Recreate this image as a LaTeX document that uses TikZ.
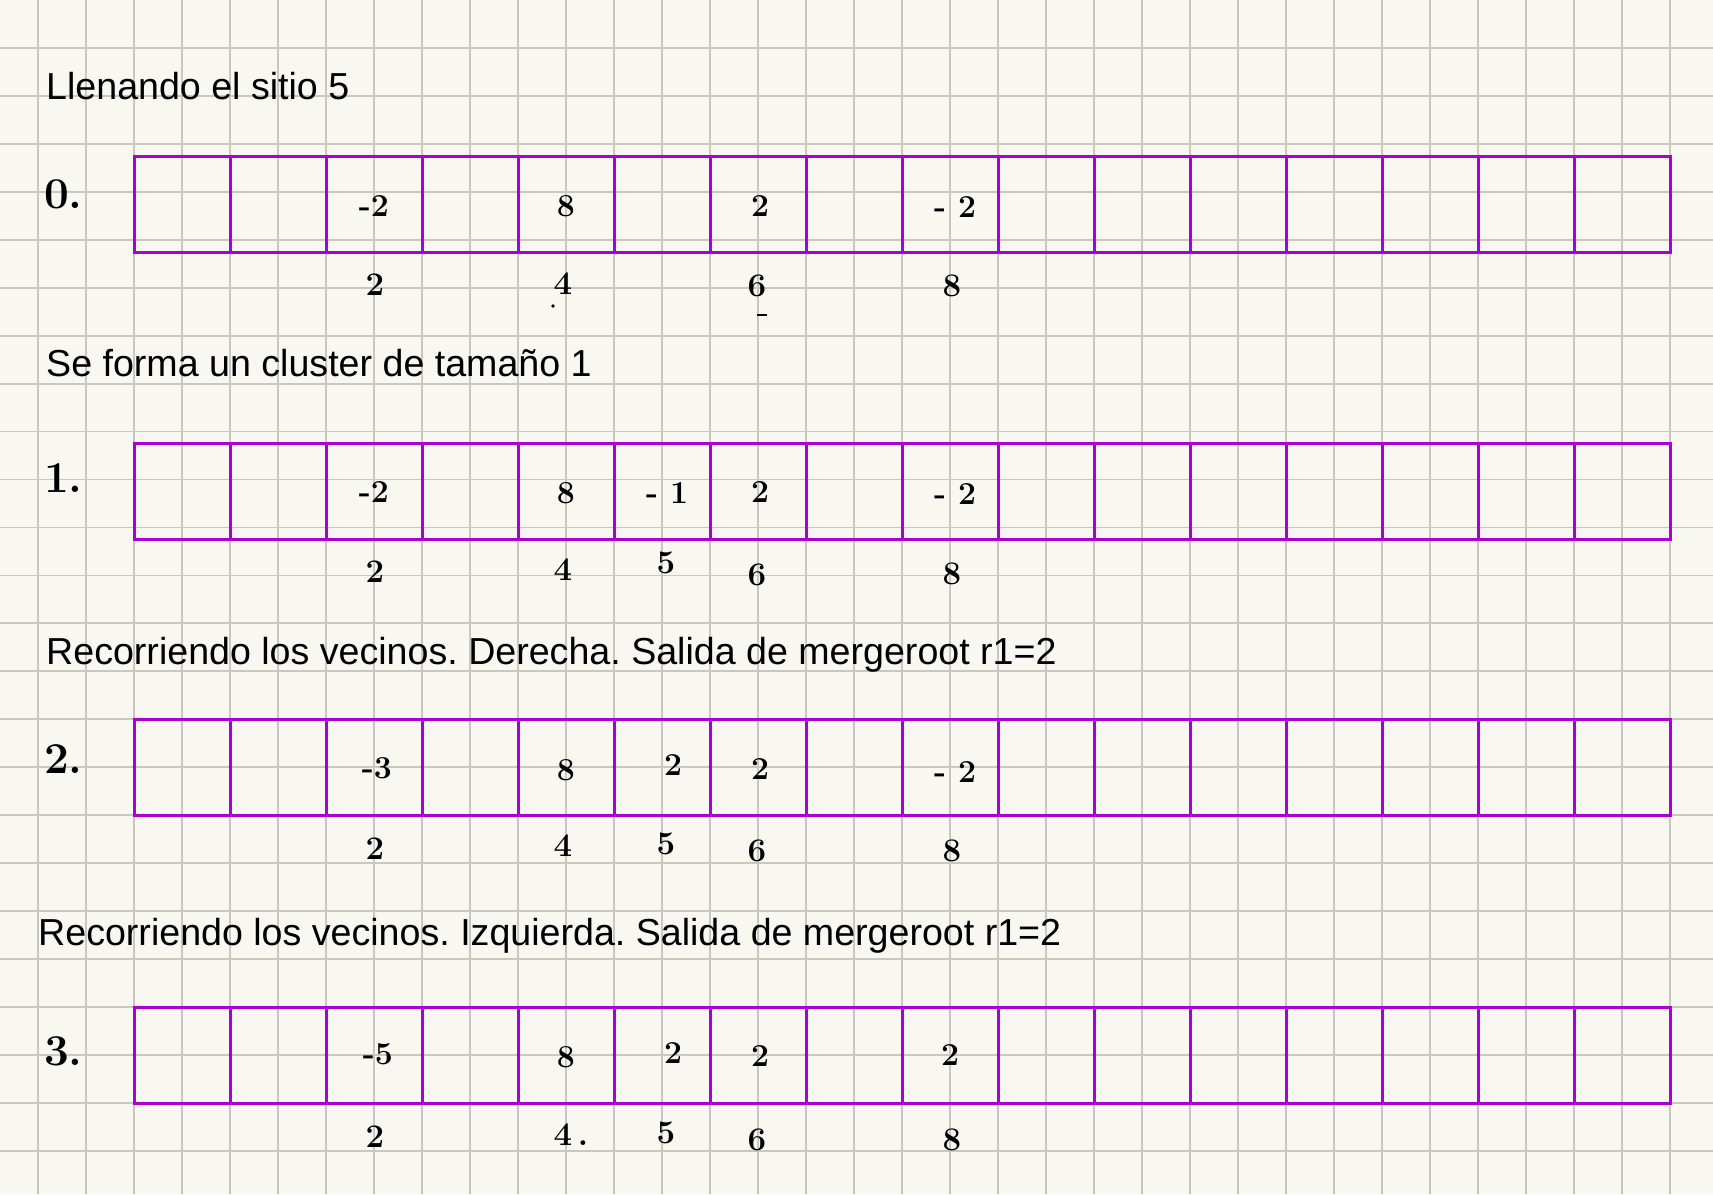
\documentclass[tikz,border=0pt]{standalone}
\usepackage{fontspec}
\setsansfont{Liberation Sans}
\definecolor{paper}{RGB}{249,247,242}
\definecolor{gridc}{RGB}{203,199,191}
\definecolor{boxc}{RGB}{170,0,212}
\frenchspacing
\begin{document}
\begin{tikzpicture}[x=1pt,y=-1pt,
  cellbox/.style={draw=boxc,line width=3pt,minimum width=96pt,minimum height=96pt,inner sep=0pt,outer sep=0pt},
  val/.style={inner sep=0pt,font=\fontsize{32}{35}\selectfont\bfseries},
  idx/.style={inner sep=0pt,font=\fontsize{33}{36}\selectfont\bfseries},
  rowlab/.style={inner sep=0pt,anchor=west,font=\fontsize{44}{48}\selectfont\bfseries},
  heading/.style={inner sep=0pt,anchor=base west,font=\sffamily\fontsize{37.6}{44}\selectfont},
  gridline/.style={draw=gridc,line width=1.8pt}]
\fill[paper] (0,0) rectangle (1713,1194);
\useasboundingbox (0,0) rectangle (1713,1194);
% grid
\foreach \i in {0,...,34} \draw[gridline] ({38+48*\i},0) -- ({38+48*\i},1194);
\foreach \j in {1,...,24} \draw[gridline] (0,{47.95*\j}) -- (1713,{47.95*\j});
% headings
\node[heading] (h0) at (46,99) {Llenando el sitio 5};
\node[heading] (h1) at (46,376) {Se forma un cluster de tamaño 1};
\node[heading] (h2) at (46,664) {Recorriendo los vecinos. Derecha. Salida de mergeroot r1=2};
\node[heading] (h3) at (38,945) {Recorriendo los vecinos. Izquierda. Salida de mergeroot r1=2};
% rows of cells
\foreach \r/\cy in {0/204,1/491,2/767,3/1055}{
  \foreach \c in {0,...,15}{
    \node[cellbox] (r\r c\c) at ({182+96*\c},\cy) {};
  }
}
% row labels
\node[rowlab] (l0) at (44,194) {0.};
\node[rowlab] (l1) at (44,478) {1.};
\node[rowlab] (l2) at (44,759) {2.};
\node[rowlab] (l3) at (44,1051) {3.};
% row 0 values
\node[val] (v0a) at (374,206) {-2};
\node[val] (v0b) at (566,206) {8};
\node[val] (v0c) at (760,206) {2};
\node[val] (v0d) at (955,207) {- 2};
\node[idx] (i0a) at (375,285) {2};
\node[idx] (i0b) at (563,284) {4};
\node[idx] (i0c) at (757,286) {6};
\node[idx] (i0d) at (952,286) {8};
\fill (553,306) circle (1.8);
\draw[line width=2.6pt] (757,315) -- (767,315);
% row 1 values
\node[val] (v1a) at (374,492) {-2};
\node[val] (v1b) at (566,493) {8};
\node[val] (v1c) at (667,493) {- 1};
\node[val] (v1d) at (760,492) {2};
\node[val] (v1e) at (955,494) {- 2};
\node[idx] (i1a) at (375,572) {2};
\node[idx] (i1b) at (563,570) {4};
\node[idx] (i1c) at (666,563) {5};
\node[idx] (i1d) at (757,575) {6};
\node[idx] (i1e) at (952,574) {8};
% row 2 values
\node[val] (v2a) at (377,768) {-3};
\node[val] (v2b) at (566,770) {8};
\node[val] (v2c) at (673,765) {2};
\node[val] (v2d) at (760,769) {2};
\node[val] (v2e) at (955,772) {- 2};
\node[idx] (i2a) at (375,849) {2};
\node[idx] (i2b) at (563,846) {4};
\node[idx] (i2c) at (666,844) {5};
\node[idx] (i2d) at (757,851) {6};
\node[idx] (i2e) at (952,851) {8};
% row 3 values
\node[val] (v3a) at (378,1054) {-5};
\node[val] (v3b) at (566,1057) {8};
\node[val] (v3c) at (673,1053) {2};
\node[val] (v3d) at (760,1056) {2};
\node[val] (v3e) at (950,1055) {2};
\node[idx] (i3a) at (375,1137) {2};
\node[idx] (i3b) at (563,1135) {4\rlap{\,.}};
\node[idx] (i3c) at (666,1133) {5};
\node[idx] (i3d) at (757,1140) {6};
\node[idx] (i3e) at (952,1140) {8};
\end{tikzpicture}
\end{document}
